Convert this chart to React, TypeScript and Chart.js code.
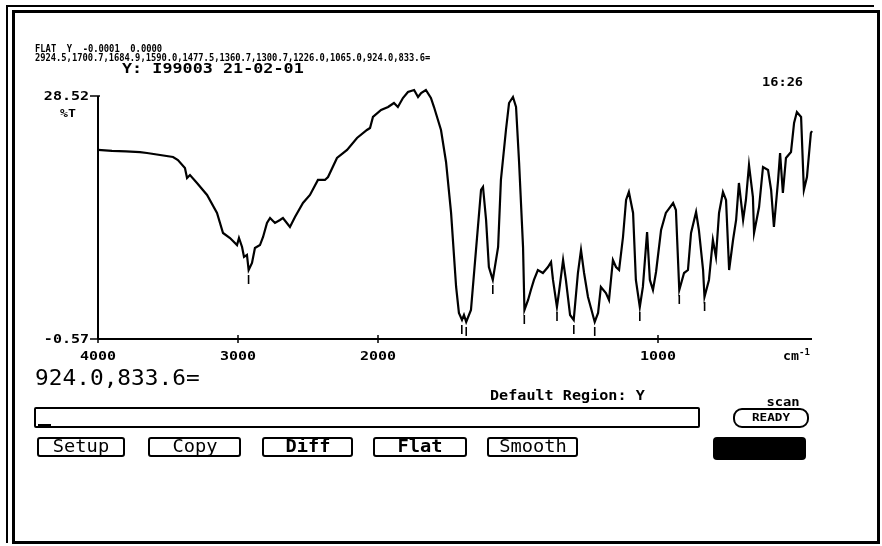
import React, { useEffect, useRef } from "react";
import { Chart, registerables } from "chart.js";

Chart.register(...registerables);

// Wavenumbers (cm-1) and %T
const wavenumbers = [
  4000, 3900, 3800, 3700, 3650, 3464, 3429, 3379, 3364, 3343, 3293, 3221, 3150, 3107, 3057, 3007, 2993,
  2971, 2957, 2936, 2924, 2900, 2879, 2843, 2821, 2793, 2771, 2736, 2700, 2679, 2629, 2593, 2536,
  2486, 2429, 2379, 2357, 2293, 2221, 2150, 2079, 2057, 2036, 1989, 1964, 1943, 1929, 1911, 1893,
  1871, 1857, 1846, 1829, 1811, 1800, 1775, 1757, 1739, 1721, 1711, 1700, 1693, 1685, 1668, 1650,
  1632, 1625, 1614, 1604, 1590, 1571, 1561, 1543, 1532, 1518, 1507, 1496, 1482, 1477, 1464, 1454,
  1443, 1429, 1411, 1393, 1382, 1375, 1361, 1354, 1339, 1329, 1314, 1301, 1286, 1275, 1264, 1250,
  1226, 1214, 1204, 1186, 1175, 1161, 1150, 1139, 1125, 1114, 1104, 1089, 1079, 1065, 1054, 1039,
  1029, 1018, 1007, 989, 972, 946, 936, 924, 907, 893, 882, 864, 854, 839, 834, 818, 804, 793, 782,
  768, 757, 746, 732, 721, 711, 696, 686, 675, 661, 657, 639, 625, 607, 596, 586, 571, 564, 554, 543,
  525, 514, 504, 489, 479, 468, 454, 450,
];
const transmittance = [
  22.06, 21.95, 21.9, 21.8, 21.7, 21.22, 20.86, 19.9, 18.7, 19.06, 18.11, 16.67, 14.52, 12.12, 11.52, 10.68, 11.52,
  10.45, 9.25, 9.49, 7.69, 8.53, 10.33, 10.68, 11.64, 13.32, 13.92, 13.32, 13.68, 13.92, 12.84, 14.04, 15.71,
  16.67, 18.47, 18.47, 18.82, 21.1, 22.06, 23.49, 24.45, 24.69, 26.01, 26.84, 27.2, 27.68, 27.2, 28.28, 29.0,
  29.24, 28.4, 28.88, 29.24, 28.28, 27.2, 24.45, 20.62, 14.52, 5.66, 2.55, 1.71, 2.31, 1.47, 2.9, 10.09,
  17.27, 17.63, 13.68, 8.05, 6.5, 10.45, 18.47, 24.45, 27.68, 28.4, 27.2, 20.5, 10.45, 2.9, 4.1, 5.3,
  6.5, 7.69, 7.33, 8.05, 8.65, 6.5, 3.26, 4.94, 8.89, 6.5, 2.3, 1.71, 7.33, 10.09, 7.33, 4.46,
  1.47, 2.55, 5.66, 4.94, 4.1, 8.89, 8.05, 7.69, 11.64, 16.07, 17.03, 14.52, 6.5, 3.26, 5.66, 12.24,
  6.5, 5.3, 7.45, 12.48, 14.52, 15.71, 14.87, 5.3, 7.33, 7.69, 12.12, 14.63, 12.48, 7.69, 4.46, 6.5, 11.28, 9.25, 14.52,
  17.03, 16.07, 7.69, 11.28, 13.68, 18.11, 13.68, 16.07, 20.26, 16.43, 12.12, 15.23, 20.02, 19.66, 17.27, 12.84, 18.47, 21.7, 16.91, 21.1,
  21.82, 25.29, 26.6, 26.01, 17.27, 18.82, 24.09, 24.33,
];
const peakWavenumbers = [2924.5, 1700.7, 1684.9, 1590.0, 1477.5, 1360.7, 1300.7, 1226.0, 1065.0, 924.0, 833.6];
const xTickValues = [4000, 3000, 2000, 1000];
const yTickValues = [28.52, -0.57];
const xRange = [4000, 450];
const yRange = [-0.57, 28.52];

// IR axis: scale doubles below 2000 cm-1
function toAxis(w: number) {
  return w >= 2000 ? 4000 - w : 2000 + 2 * (2000 - w);
}

function stretchText(ctx: CanvasRenderingContext2D, text: string, x: number, y: number, sx: number, align: CanvasTextAlign) {
  ctx.save();
  ctx.translate(x, y);
  ctx.scale(sx, 1);
  ctx.textAlign = align;
  ctx.textBaseline = "alphabetic";
  ctx.fillText(text, 0, 0);
  ctx.restore();
}

const irAxesPlugin = {
  id: "irAxes",
  afterDraw(chart: any) {
    const { ctx, chartArea: a, scales } = chart;
    const x = scales.x;
    const y = scales.y;
    ctx.save();
    ctx.strokeStyle = "#000";
    ctx.fillStyle = "#000";
    ctx.lineWidth = 2;
    ctx.beginPath();
    ctx.moveTo(a.left, a.top);
    ctx.lineTo(a.left, a.bottom);
    ctx.moveTo(a.left, a.bottom);
    ctx.lineTo(a.right, a.bottom);
    ctx.stroke();

    ctx.font = 'bold 12px "DejaVu Sans Mono"';
    ctx.lineWidth = 1.5;
    xTickValues.forEach((w) => {
      const px = x.getPixelForValue(toAxis(w));
      ctx.beginPath();
      ctx.moveTo(px, a.bottom - 4);
      ctx.lineTo(px, a.bottom + 4);
      ctx.stroke();
      stretchText(ctx, String(w), px, a.bottom + 21, 1.25, "center");
    });
    yTickValues.forEach((v) => {
      const py = y.getPixelForValue(v);
      ctx.beginPath();
      ctx.moveTo(a.left - 8, py);
      ctx.lineTo(a.left + 2, py);
      ctx.stroke();
      stretchText(ctx, v.toFixed(2), a.left - 9, py + 4.4, 1.25, "right");
    });
    ctx.font = 'bold 12px "DejaVu Sans Mono"';
    stretchText(ctx, "cm", a.right - 29, a.bottom + 21, 1.1, "left");
    ctx.font = 'bold 9px "DejaVu Sans Mono"';
    stretchText(ctx, "-1", a.right - 13, a.bottom + 16, 1.0, "left");

    // peak markers
    ctx.lineWidth = 1.6;
    peakWavenumbers.forEach((p) => {
      let minT = Infinity;
      wavenumbers.forEach((w, i) => {
        if (Math.abs(w - p) <= 6 && transmittance[i] < minT) minT = transmittance[i];
      });
      const px = x.getPixelForValue(toAxis(p));
      const py = y.getPixelForValue(minT);
      ctx.beginPath();
      ctx.moveTo(px, py + 5);
      ctx.lineTo(px, py + 14);
      ctx.stroke();
    });
    ctx.restore();
  },
};

type TxtProps = {
  x: number;
  capTop: number;
  size: number;
  sx?: number;
  sy?: number;
  bold?: boolean;
  center?: boolean;
  children: React.ReactNode;
};

function Txt({ x, capTop, size, sx = 1, sy = 1, bold = false, center = false, children }: TxtProps) {
  const top = capTop - 0.117 * size * sy;
  return (
    <div
      style={{
        position: "absolute",
        left: x,
        top,
        fontFamily: '"DejaVu Sans Mono", monospace',
        fontSize: size,
        lineHeight: `${size}px`,
        fontWeight: bold ? 700 : 400,
        whiteSpace: "pre",
        color: "#000",
        transformOrigin: center ? "center top" : "left top",
        transform: center ? `translateX(-50%) scale(${sx}, ${sy})` : `scale(${sx}, ${sy})`,
      }}
    >
      {children}
    </div>
  );
}

const buttons: [string, number, number, boolean][] = [
  ["Setup", 37, 125, false],
  ["Copy", 148, 241, false],
  ["Diff", 262, 353, true],
  ["Flat", 373, 467, true],
  ["Smooth", 487, 578, false],
];

export default function App() {
  const canvasRef = useRef<HTMLCanvasElement>(null);

  useEffect(() => {
    if (!canvasRef.current) return;
    const chart = new Chart(canvasRef.current, {
      type: "line",
      data: {
        datasets: [
          {
            data: wavenumbers.map((w, i) => ({ x: toAxis(w), y: transmittance[i] })),
            borderColor: "#000",
            borderWidth: 2.2,
            pointRadius: 0,
            tension: 0,
            fill: false,
            clip: false as any,
          },
        ],
      },
      options: {
        responsive: false,
        animation: false,
        layout: { padding: { left: 98, top: 96, right: 70, bottom: 207 } },
        plugins: { legend: { display: false }, tooltip: { enabled: false } },
        scales: {
          x: { type: "linear", min: toAxis(xRange[0]), max: toAxis(xRange[1]), display: false },
          y: { type: "linear", min: yRange[0], max: yRange[1], display: false },
        },
      },
      plugins: [irAxesPlugin],
    });
    return () => chart.destroy();
  }, []);

  return (
    <div style={{ position: "absolute", left: 0, top: 0, width: 882, height: 546, background: "#fff", overflow: "hidden" }}>
      {/* frame */}
      <div style={{ position: "absolute", left: 6, top: 5, width: 868, height: 2, background: "#000" }} />
      <div style={{ position: "absolute", left: 6, top: 5, width: 2, height: 538, background: "#000" }} />
      <div style={{ position: "absolute", left: 12, top: 10, width: 868, height: 534, border: "3px solid #000", boxSizing: "border-box" }} />

      <canvas ref={canvasRef} width={882} height={546} style={{ position: "absolute", left: 0, top: 0 }} />

      <Txt x={35} capTop={44} size={8.4} sx={1.05} sy={1.3} bold>FLAT  Y  -0.0001  0.0000</Txt>
      <Txt x={35} capTop={53} size={8.4} sx={1.045} sy={1.3} bold>
        {peakWavenumbers.map((p) => p.toFixed(1)).join(",") + "="}
      </Txt>
      <Txt x={122} capTop={63} size={13} sx={1.29} sy={1.05} bold>Y: I99003 21-02-01</Txt>
      <Txt x={762} capTop={77} size={11} sx={1.24} sy={1.1} bold>16:26</Txt>
      <Txt x={60} capTop={109} size={11} sx={1.2} bold>%T</Txt>

      <Txt x={35} capTop={369} size={20} sx={1.14} sy={1.03}>924.0,833.6=</Txt>
      <Txt x={490} capTop={391} size={12} sx={1.26} sy={1.14} bold>Default Region: Y</Txt>
      <Txt x={783} capTop={397} size={12} sx={1.15} bold center>scan</Txt>

      <div style={{ position: "absolute", left: 34, top: 407, width: 666, height: 21, border: "2px solid #000", borderRadius: 2, boxSizing: "border-box" }} />
      <div style={{ position: "absolute", left: 38, top: 424, width: 13, height: 2, background: "#000" }} />

      <div style={{ position: "absolute", left: 733, top: 408, width: 76, height: 20, border: "2px solid #000", borderRadius: 9, boxSizing: "border-box" }} />
      <Txt x={771} capTop={413} size={11} sx={1.15} bold center>READY</Txt>

      {buttons.map(([label, l, r, bold]) => (
        <React.Fragment key={label}>
          <div style={{ position: "absolute", left: l, top: 437, width: r - l, height: 20, border: "2px solid #000", borderRadius: 3, boxSizing: "border-box" }} />
          <Txt x={(l + r) / 2} capTop={440} size={17} sx={1.1} bold={bold} center>{label}</Txt>
        </React.Fragment>
      ))}

      <div style={{ position: "absolute", left: 713, top: 437, width: 93, height: 23, background: "#000", borderRadius: 4 }} />
    </div>
  );
}
